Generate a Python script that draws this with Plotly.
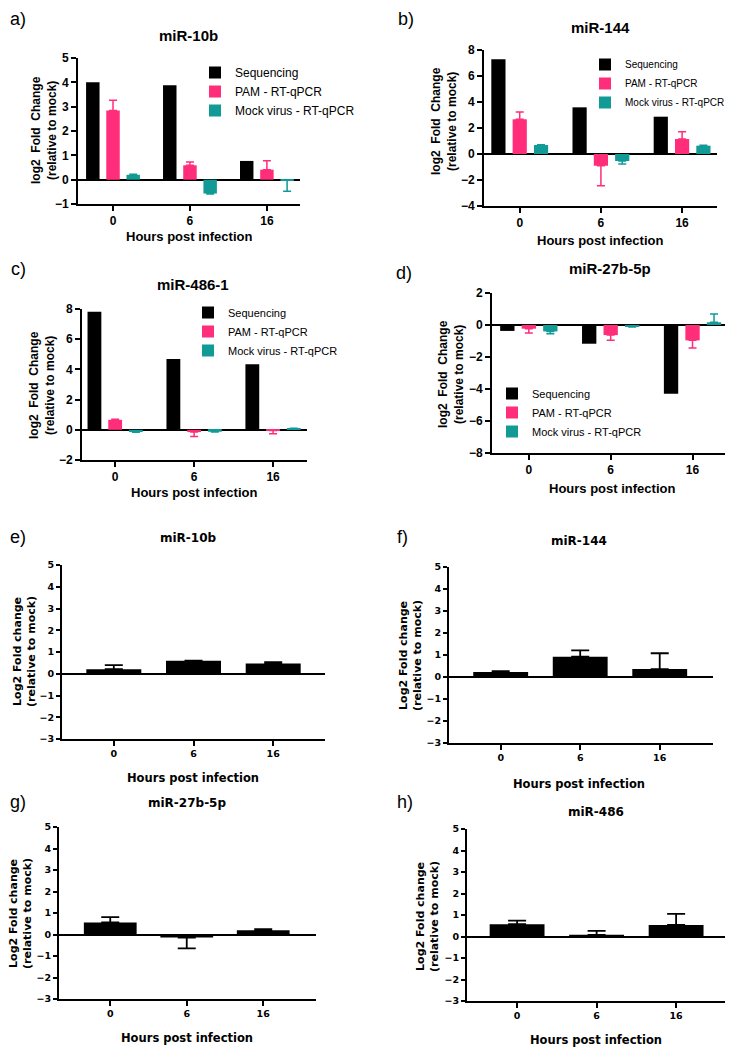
import plotly.graph_objects as go

# the page body has an 8px default margin, so the figure is drawn at (8, 8)
W, H = 733, 1049
OFF = 8
FW, FH = W - OFF, H - OFF

hours = ["0", "6", "16"]
series_names = ["Sequencing", "PAM - RT-qPCR", "Mock virus - RT-qPCR"]

# Panel a: miR-10b
a_seq = [4.00, 3.88, 0.77]
a_pam = [2.84, 0.59, 0.41]
a_pam_err = [0.42, 0.14, 0.37]
a_mock = [0.20, -0.57, -0.02]
a_mock_err = [0.02, 0.02, 0.46]

# Panel b: miR-144
b_seq = [7.28, 3.59, 2.87]
b_pam = [2.67, -0.90, 1.15]
b_pam_err = [0.56, 1.54, 0.57]
b_mock = [0.69, -0.54, 0.64]
b_mock_err = [0.03, 0.23, 0.03]

# Panel c: miR-486-1
c_seq = [7.82, 4.69, 4.34]
c_pam = [0.66, -0.15, -0.05]
c_pam_err = [0.04, 0.29, 0.21]
c_mock = [-0.15, -0.13, 0.08]
c_mock_err = [0.02, 0.02, 0.02]

# Panel d: miR-27b-5p
d_seq = [-0.37, -1.17, -4.29]
d_pam = [-0.23, -0.63, -0.96]
d_pam_err = [0.27, 0.33, 0.48]
d_mock = [-0.40, -0.10, 0.17]
d_mock_err = [0.14, 0.03, 0.52]

# Panels e-h: single series
e_vals = [0.21, 0.60, 0.47]
e_err = [0.19, 0.00, 0.06]
f_vals = [0.23, 0.92, 0.36]
f_err = [0.04, 0.29, 0.72]
g_vals = [0.56, -0.14, 0.20]
g_err = [0.25, 0.51, 0.05]
h_vals = [0.57, 0.08, 0.54]
h_err = [0.17, 0.18, 0.51]

BLACK = "#000000"
PINK = "#FF2D7A"
TEAL = "#119A96"

TOP_FONT = "Liberation Sans, Arial, sans-serif"
BOT_FONT = "DejaVu Sans, sans-serif"


def px(p):
    return (p - OFF) / FW


def py(p):
    return 1 - (p - OFF) / FH


def xd(l, r):
    return [px(l), px(r)]


def yd(t, b):
    return [py(b), py(t)]


def split_err(vals, errs):
    plus = [e if v >= 0 else 0 for v, e in zip(vals, errs)]
    minus = [e if v < 0 else 0 for v, e in zip(vals, errs)]
    return plus, minus


def ann(text, x, y, font, angle=0):
    return dict(text=text, x=px(x), y=py(y), xref="paper", yref="paper",
                textangle=angle, showarrow=False, xanchor="center",
                yanchor="middle", font=font)


fig = go.Figure()

# ---------- top panels ----------
top_panels = [
    dict(k=1, title="miR-10b", label="a)", seq=a_seq, pam=a_pam, pam_err=a_pam_err,
         mock=a_mock, mock_err=a_mock_err, xdom=(78, 300), ydom=(58, 204),
         yr=(-1, 5), dt=1, xr=(-0.455, 2.43), legend="legend",
         leg=(195, 58, 12), ytit=(44, 130), tit=(188, 35), lab=(18, 19), xt=(189, 236)),
    dict(k=2, title="miR-144", label="b)", seq=b_seq, pam=b_pam, pam_err=b_pam_err,
         mock=b_mock, mock_err=b_mock_err, xdom=(484, 717), ydom=(50, 206),
         yr=(-4, 8), dt=2, xr=(-0.44, 2.43), legend="legend2",
         leg=(585, 50, 10), ytit=(444, 121), tit=(600, 27), lab=(406, 19), xt=(600, 240)),
    dict(k=3, title="miR-486-1", label="c)", seq=c_seq, pam=c_pam, pam_err=c_pam_err,
         mock=c_mock, mock_err=c_mock_err, xdom=(82, 307), ydom=(309, 460),
         yr=(-2, 8), dt=2, xr=(-0.42, 2.43), legend="legend3",
         leg=(188, 298, 11), ytit=(42, 385), tit=(193, 285), lab=(18, 269), xt=(194, 492)),
    dict(k=4, title="miR-27b-5p", label="d)", seq=d_seq, pam=d_pam, pam_err=d_pam_err,
         mock=d_mock, mock_err=d_mock_err, xdom=(492, 731), ydom=(293, 453),
         yr=(-8, 2), dt=2, xr=(-0.45, 2.47), legend="legend4",
         leg=(492, 379, 11), ytit=(451, 374), tit=(610, 268), lab=(404, 273), xt=(612, 488)),
]

annotations = []
layout_axes = {}
legends = {}

for p in top_panels:
    k = p["k"]
    xa = "x" if k == 1 else f"x{k}"
    ya = "y" if k == 1 else f"y{k}"
    specs = [
        (series_names[0], p["seq"], None, BLACK, -0.35),
        (series_names[1], p["pam"], p["pam_err"], PINK, -0.0875),
        (series_names[2], p["mock"], p["mock_err"], TEAL, 0.175),
    ]
    for name, vals, errs, col, off in specs:
        kw = {}
        if errs is not None:
            plus, minus = split_err(vals, errs)
            kw["error_y"] = dict(type="data", symmetric=False, array=plus,
                                 arrayminus=minus, color=col, thickness=1.5, width=4)
        fig.add_trace(go.Bar(
            x=hours, y=vals, name=name, xaxis=xa, yaxis=ya,
            marker=dict(color=col, line=dict(width=0)),
            width=0.175, offset=off, legend=p["legend"], showlegend=True, **kw))
    xkey = "xaxis" if k == 1 else f"xaxis{k}"
    ykey = "yaxis" if k == 1 else f"yaxis{k}"
    layout_axes[xkey] = dict(
        domain=xd(*p["xdom"]), anchor=ya, type="category", range=list(p["xr"]),
        showline=True, linecolor=BLACK, linewidth=1.8, ticks="outside", ticklen=5,
        tickwidth=1.5, tickcolor=BLACK, showgrid=False, zeroline=False,
        tickfont=dict(family=TOP_FONT, size=12, color=BLACK, weight="bold"),
        fixedrange=True, automargin=False)
    layout_axes[ykey] = dict(
        domain=yd(*p["ydom"]), anchor=xa, range=list(p["yr"]), dtick=p["dt"],
        tick0=0, showline=True, linecolor=BLACK, linewidth=1.8, ticks="outside",
        ticklen=5, tickwidth=1.5, tickcolor=BLACK, showgrid=False, zeroline=True,
        zerolinecolor=BLACK, zerolinewidth=1.8,
        tickfont=dict(family=TOP_FONT, size=12, color=BLACK, weight="bold"),
        fixedrange=True, automargin=False)
    lx, ly, lfs = p["leg"]
    legends[p["legend"]] = dict(
        x=px(lx), y=py(ly), xanchor="left", yanchor="top", xref="paper",
        yref="paper", bgcolor="rgba(0,0,0,0)", tracegroupgap=0,
        font=dict(family=TOP_FONT, size=lfs, color=BLACK))
    annotations.append(ann("log2  Fold  Change<br>(relative to mock)", *p["ytit"],
                           dict(family=TOP_FONT, size=12, color=BLACK, weight="bold"),
                           angle=-90))
    annotations.append(ann(p["title"], *p["tit"],
                           dict(family=TOP_FONT, size=15, color=BLACK, weight="bold")))
    annotations.append(ann("Hours post infection", *p["xt"],
                           dict(family=TOP_FONT, size=13, color=BLACK, weight="bold")))
    annotations.append(ann(p["label"], *p["lab"],
                           dict(family=TOP_FONT, size=18, color=BLACK)))

# ---------- bottom panels ----------
bottom_panels = [
    dict(k=5, title="miR-10b", label="e)", vals=e_vals, err=e_err,
         xdom=(62, 325), ydom=(565, 739), xr=(-0.65, 2.65),
         ytit=(24, 652), tit=(188, 538), lab=(18, 537), xt=(193, 778)),
    dict(k=6, title="miR-144", label="f)", vals=f_vals, err=f_err,
         xdom=(449, 713), ydom=(567, 743), xr=(-0.65, 2.67),
         ytit=(410, 656), tit=(579, 541), lab=(402, 537), xt=(579, 784)),
    dict(k=7, title="miR-27b-5p", label="g)", vals=g_vals, err=g_err,
         xdom=(59, 316), ydom=(827, 999), xr=(-0.67, 2.69),
         ytit=(20, 914), tit=(187, 803), lab=(18, 802), xt=(187, 1038)),
    dict(k=8, title="miR-486", label="h)", vals=h_vals, err=h_err,
         xdom=(467, 727), ydom=(829, 1001), xr=(-0.63, 2.64),
         ytit=(427, 917), tit=(596, 812), lab=(405, 802), xt=(596, 1040)),
]

for p in bottom_panels:
    k = p["k"]
    xa, ya = f"x{k}", f"y{k}"
    plus, minus = split_err(p["vals"], p["err"])
    fig.add_trace(go.Bar(
        x=hours, y=p["vals"], xaxis=xa, yaxis=ya, showlegend=False,
        marker=dict(color=BLACK, line=dict(width=0)), width=0.69, offset=-0.345,
        error_y=dict(type="data", symmetric=False, array=plus, arrayminus=minus,
                     color=BLACK, thickness=1.8, width=9)))
    layout_axes[f"xaxis{k}"] = dict(
        domain=xd(*p["xdom"]), anchor=ya, type="category", range=list(p["xr"]),
        showline=True, linecolor=BLACK, linewidth=2, ticks="outside", ticklen=5,
        tickwidth=1.5, tickcolor=BLACK, showgrid=False, zeroline=False,
        tickfont=dict(family=BOT_FONT, size=9.5, color=BLACK, weight="bold"),
        fixedrange=True, automargin=False)
    layout_axes[f"yaxis{k}"] = dict(
        domain=yd(*p["ydom"]), anchor=xa, range=[-3, 5], dtick=1, tick0=0,
        showline=True, linecolor=BLACK, linewidth=2, ticks="outside", ticklen=4,
        tickwidth=1.5, tickcolor=BLACK, showgrid=False, zeroline=True,
        zerolinecolor=BLACK, zerolinewidth=2,
        tickfont=dict(family=BOT_FONT, size=9.5, color=BLACK, weight="bold"),
        fixedrange=True, automargin=False)
    annotations.append(ann("Log2 Fold change<br>(relative to mock)", *p["ytit"],
                           dict(family=BOT_FONT, size=11, color=BLACK, weight="bold"),
                           angle=-90))
    annotations.append(ann(p["title"], *p["tit"],
                           dict(family=BOT_FONT, size=12, color=BLACK, weight="bold")))
    annotations.append(ann("Hours post infection", *p["xt"],
                           dict(family=BOT_FONT, size=11.5, color=BLACK, weight="bold")))
    annotations.append(ann(p["label"], *p["lab"],
                           dict(family=TOP_FONT, size=18, color=BLACK)))

fig.update_layout(
    width=FW, height=FH, margin=dict(l=0, r=0, t=0, b=0, autoexpand=False),
    paper_bgcolor="white", plot_bgcolor="white",
    barmode="overlay", annotations=annotations, **layout_axes, **legends)

fig.write_html("out.html")
